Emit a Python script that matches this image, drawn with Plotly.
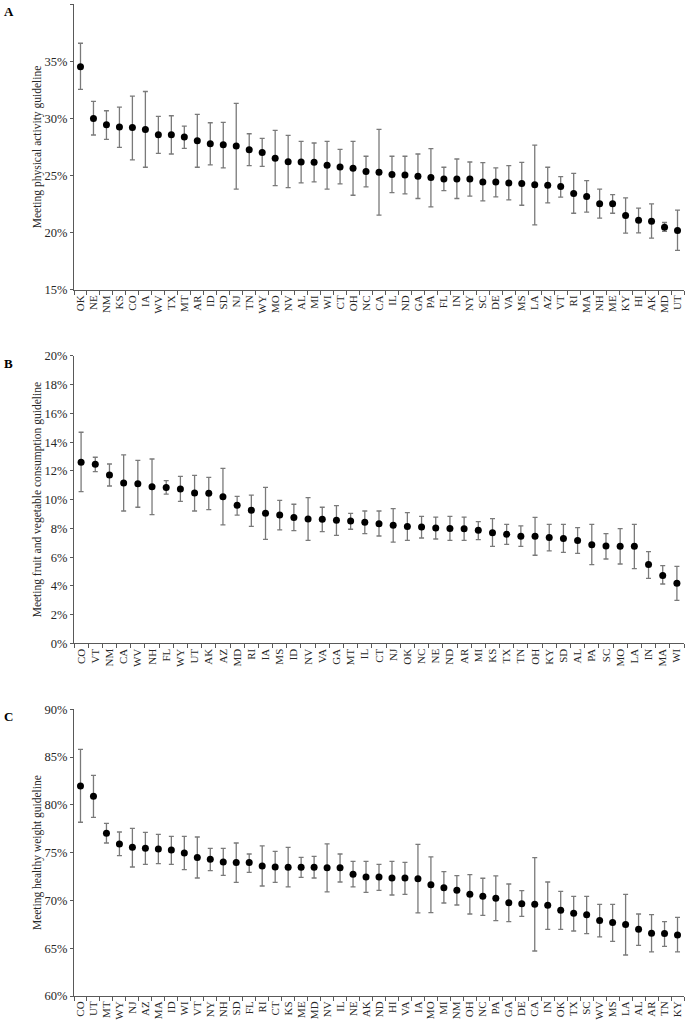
import plotly.graph_objects as go

# panel A - physical activity
states_a = ["OK", "NE", "NM", "KS", "CO", "IA", "WV", "TX", "MT", "AR", "ID", "SD", "NJ", "TN", "WY", "MO",
            "NV", "AL", "MI", "WI", "CT", "OH", "NC", "CA", "IL", "ND", "GA", "PA", "FL", "IN", "NY", "SC",
            "DE", "VA", "MS", "LA", "AZ", "VT", "RI", "MA", "NH", "ME", "KY", "HI", "AK", "MD", "UT"]
mean_a = [34.51, 30.0, 29.45, 29.24, 29.21, 29.04, 28.58, 28.58, 28.37, 28.05, 27.79, 27.70, 27.59, 27.27,
          27.01, 26.51, 26.22, 26.19, 26.16, 25.90, 25.76, 25.64, 25.35, 25.29, 25.09, 25.06, 24.94, 24.83,
          24.71, 24.71, 24.71, 24.45, 24.45, 24.36, 24.30, 24.19, 24.16, 24.04, 23.43, 23.17, 22.53, 22.53,
          21.51, 21.10, 21.02, 20.49, 20.20]
upper_a = [36.57, 31.48, 30.67, 30.99, 31.95, 32.35, 30.17, 30.23, 29.33, 30.35, 29.62, 29.65, 31.31, 28.66,
           28.26, 28.95, 28.52, 28.0, 27.85, 28.0, 27.30, 28.0, 26.69, 29.04, 26.69, 26.69, 26.89, 27.35,
           25.73, 26.45, 26.19, 26.13, 25.67, 25.87, 26.16, 27.67, 25.73, 24.91, 25.20, 24.56, 23.81, 23.34,
           23.05, 22.15, 22.53, 20.90, 21.98]
lower_a = [32.53, 28.55, 28.17, 27.47, 26.37, 25.73, 26.95, 26.89, 27.38, 25.73, 25.93, 25.67, 23.81, 25.87,
           25.81, 24.13, 23.95, 24.36, 24.45, 23.81, 24.27, 23.28, 24.01, 21.54, 23.52, 23.40, 23.0, 22.27,
           23.69, 23.0, 23.20, 22.79, 23.14, 22.88, 22.41, 20.70, 22.62, 23.11, 21.71, 21.80, 21.28, 21.71,
           19.97, 20.0, 19.53, 20.12, 18.46]

# panel B - fruit and vegetable
states_b = ["CO", "VT", "NM", "CA", "WV", "NH", "FL", "WY", "UT", "AK", "AZ", "MD", "RI", "IA", "MS", "ID",
            "NV", "VA", "GA", "MT", "IL", "CT", "NJ", "OK", "NC", "NE", "ND", "AR", "MI", "KS", "TX", "TN",
            "OH", "KY", "SD", "AL", "PA", "SC", "MO", "LA", "IN", "MA", "WI"]
mean_b = [12.60, 12.46, 11.72, 11.16, 11.11, 10.90, 10.84, 10.74, 10.46, 10.44, 10.21, 9.61, 9.26, 9.05,
          8.93, 8.75, 8.65, 8.63, 8.56, 8.52, 8.42, 8.33, 8.21, 8.14, 8.10, 8.03, 8.00, 7.98, 7.87, 7.70,
          7.59, 7.45, 7.45, 7.36, 7.29, 7.15, 6.87, 6.78, 6.75, 6.75, 5.48, 4.73, 4.18]
upper_b = [14.69, 12.95, 12.48, 13.11, 12.74, 12.83, 11.32, 11.62, 11.69, 11.55, 12.18, 10.23, 10.32, 10.86,
           9.95, 9.68, 10.14, 9.47, 9.58, 9.05, 9.21, 9.21, 9.37, 9.10, 8.84, 8.79, 8.84, 8.79, 8.47, 8.68,
           8.28, 8.17, 8.77, 8.28, 8.28, 8.05, 8.28, 7.63, 7.98, 8.28, 6.38, 5.41, 5.36]
lower_b = [10.56, 11.95, 10.95, 9.21, 9.47, 8.96, 10.39, 9.88, 9.21, 9.30, 8.24, 8.93, 8.14, 7.24, 7.89,
           7.84, 7.17, 7.77, 7.52, 7.94, 7.63, 7.47, 7.05, 7.17, 7.33, 7.26, 7.17, 7.17, 7.22, 6.75, 6.89,
           6.75, 6.13, 6.43, 6.33, 6.26, 5.48, 5.87, 5.52, 5.20, 4.52, 4.13, 2.99]

# panel C - healthy weight
states_c = ["CO", "UT", "MT", "WY", "NJ", "AZ", "MA", "ID", "WI", "VT", "NY", "NH", "SD", "FL", "RI", "CT",
            "KS", "ME", "MD", "NV", "IL", "NE", "AK", "ND", "HI", "VA", "IA", "MO", "MI", "NM", "OH", "NC",
            "PA", "GA", "DE", "CA", "IN", "OK", "TX", "SC", "WV", "MS", "LA", "AL", "AR", "TN", "KY"]
mean_c = [81.98, 80.90, 77.02, 75.91, 75.56, 75.45, 75.38, 75.28, 74.97, 74.48, 74.30, 74.03, 73.96, 73.96,
          73.61, 73.50, 73.47, 73.47, 73.47, 73.43, 73.43, 72.73, 72.45, 72.45, 72.35, 72.35, 72.28, 71.65,
          71.34, 71.06, 70.64, 70.43, 70.22, 69.77, 69.66, 69.59, 69.49, 68.97, 68.65, 68.51, 67.89, 67.68,
          67.47, 66.98, 66.56, 66.53, 66.39]
upper_c = [85.81, 83.09, 78.07, 77.16, 77.55, 77.13, 76.92, 76.71, 76.71, 76.64, 75.45, 75.45, 76.01, 74.86,
           75.70, 75.14, 75.56, 74.51, 74.62, 75.91, 74.86, 74.09, 74.09, 73.78, 74.09, 73.99, 75.87, 74.55,
           73.01, 72.59, 72.70, 72.32, 72.56, 71.72, 71.02, 74.48, 71.93, 70.95, 70.43, 70.43, 69.59, 69.59,
           70.64, 68.58, 68.51, 67.78, 68.23]
lower_c = [78.18, 78.70, 76.01, 74.69, 73.50, 73.78, 73.85, 73.78, 73.22, 72.35, 73.12, 72.63, 71.90, 72.94,
           71.51, 71.90, 71.41, 72.42, 72.35, 70.89, 71.93, 71.41, 70.85, 71.06, 70.57, 70.64, 68.69, 68.72,
           69.73, 69.52, 68.58, 68.44, 67.88, 67.78, 68.34, 64.71, 66.98, 66.98, 66.80, 66.53, 66.18, 65.72,
           64.29, 65.30, 64.61, 65.20, 64.61]

FONT = "Times New Roman, Liberation Serif, serif"
AXIS_COL = "#595959"

panels = [
    (states_a, mean_a, upper_a, lower_a, "Meeting physical activity guideline", [15, 40], 5, [0.7117, 1.0], "A"),
    (states_b, mean_b, upper_b, lower_b, "Meeting fruit and vegetable consumption guideline", [0, 20], 2, [0.3555, 0.6452], "B"),
    (states_c, mean_c, upper_c, lower_c, "Meeting healthy weight guideline", [60, 90], 5, [0.0, 0.2890], "C"),
]

fig = go.Figure()
layout = {}
for i, (st, m, up, lo, title, yr, dt, dom, letter) in enumerate(panels):
    n = "" if i == 0 else str(i + 1)
    fig.add_trace(go.Scatter(
        x=st, y=m, mode="markers",
        xaxis="x" + n, yaxis="y" + n,
        marker=dict(color="black", size=7),
        error_y=dict(type="data", symmetric=False,
                     array=[u - v for u, v in zip(up, m)],
                     arrayminus=[v - l for v, l in zip(m, lo)],
                     color="#7a7a7a", thickness=1.3, width=2.5),
        showlegend=False))
    layout["xaxis" + n] = dict(
        domain=[0, 1], anchor="y" + n, type="category",
        range=[-0.5, len(st) - 0.5], tickangle=-90,
        tickmode="array", tickvals=st, ticktext=st,
        showline=True, linecolor=AXIS_COL, linewidth=1,
        ticks="outside", tickson="boundaries", ticklen=4, tickcolor=AXIS_COL,
        showgrid=False, zeroline=False, automargin=False,
        tickfont=dict(family=FONT, size=11, color="#262626"))
    layout["yaxis" + n] = dict(
        domain=dom, anchor="x" + n, range=yr, dtick=dt, ticksuffix="%",
        showline=True, linecolor=AXIS_COL, linewidth=1,
        ticks="outside", ticklen=3, tickcolor=AXIS_COL,
        showgrid=False, zeroline=False, automargin=False,
        tickfont=dict(family=FONT, size=12.5, color="#262626"),
        title=dict(text=title, standoff=0, font=dict(family=FONT, size=11.5, color="#262626")))
    fig.add_annotation(text="<b>" + letter + "</b>", xref="paper", yref="paper",
                       x=-72 / 610, y=dom[1] + 2 / 992, xanchor="left", yanchor="top",
                       showarrow=False, font=dict(family=FONT, size=13, color="black"))

fig.update_layout(
    width=685, height=1020,
    margin=dict(l=74, r=1, t=4, b=24),
    plot_bgcolor="white", paper_bgcolor="white",
    **layout)

fig.write_html("out.html", config={"displayModeBar": False},
               post_script="document.body.style.margin='0';")
